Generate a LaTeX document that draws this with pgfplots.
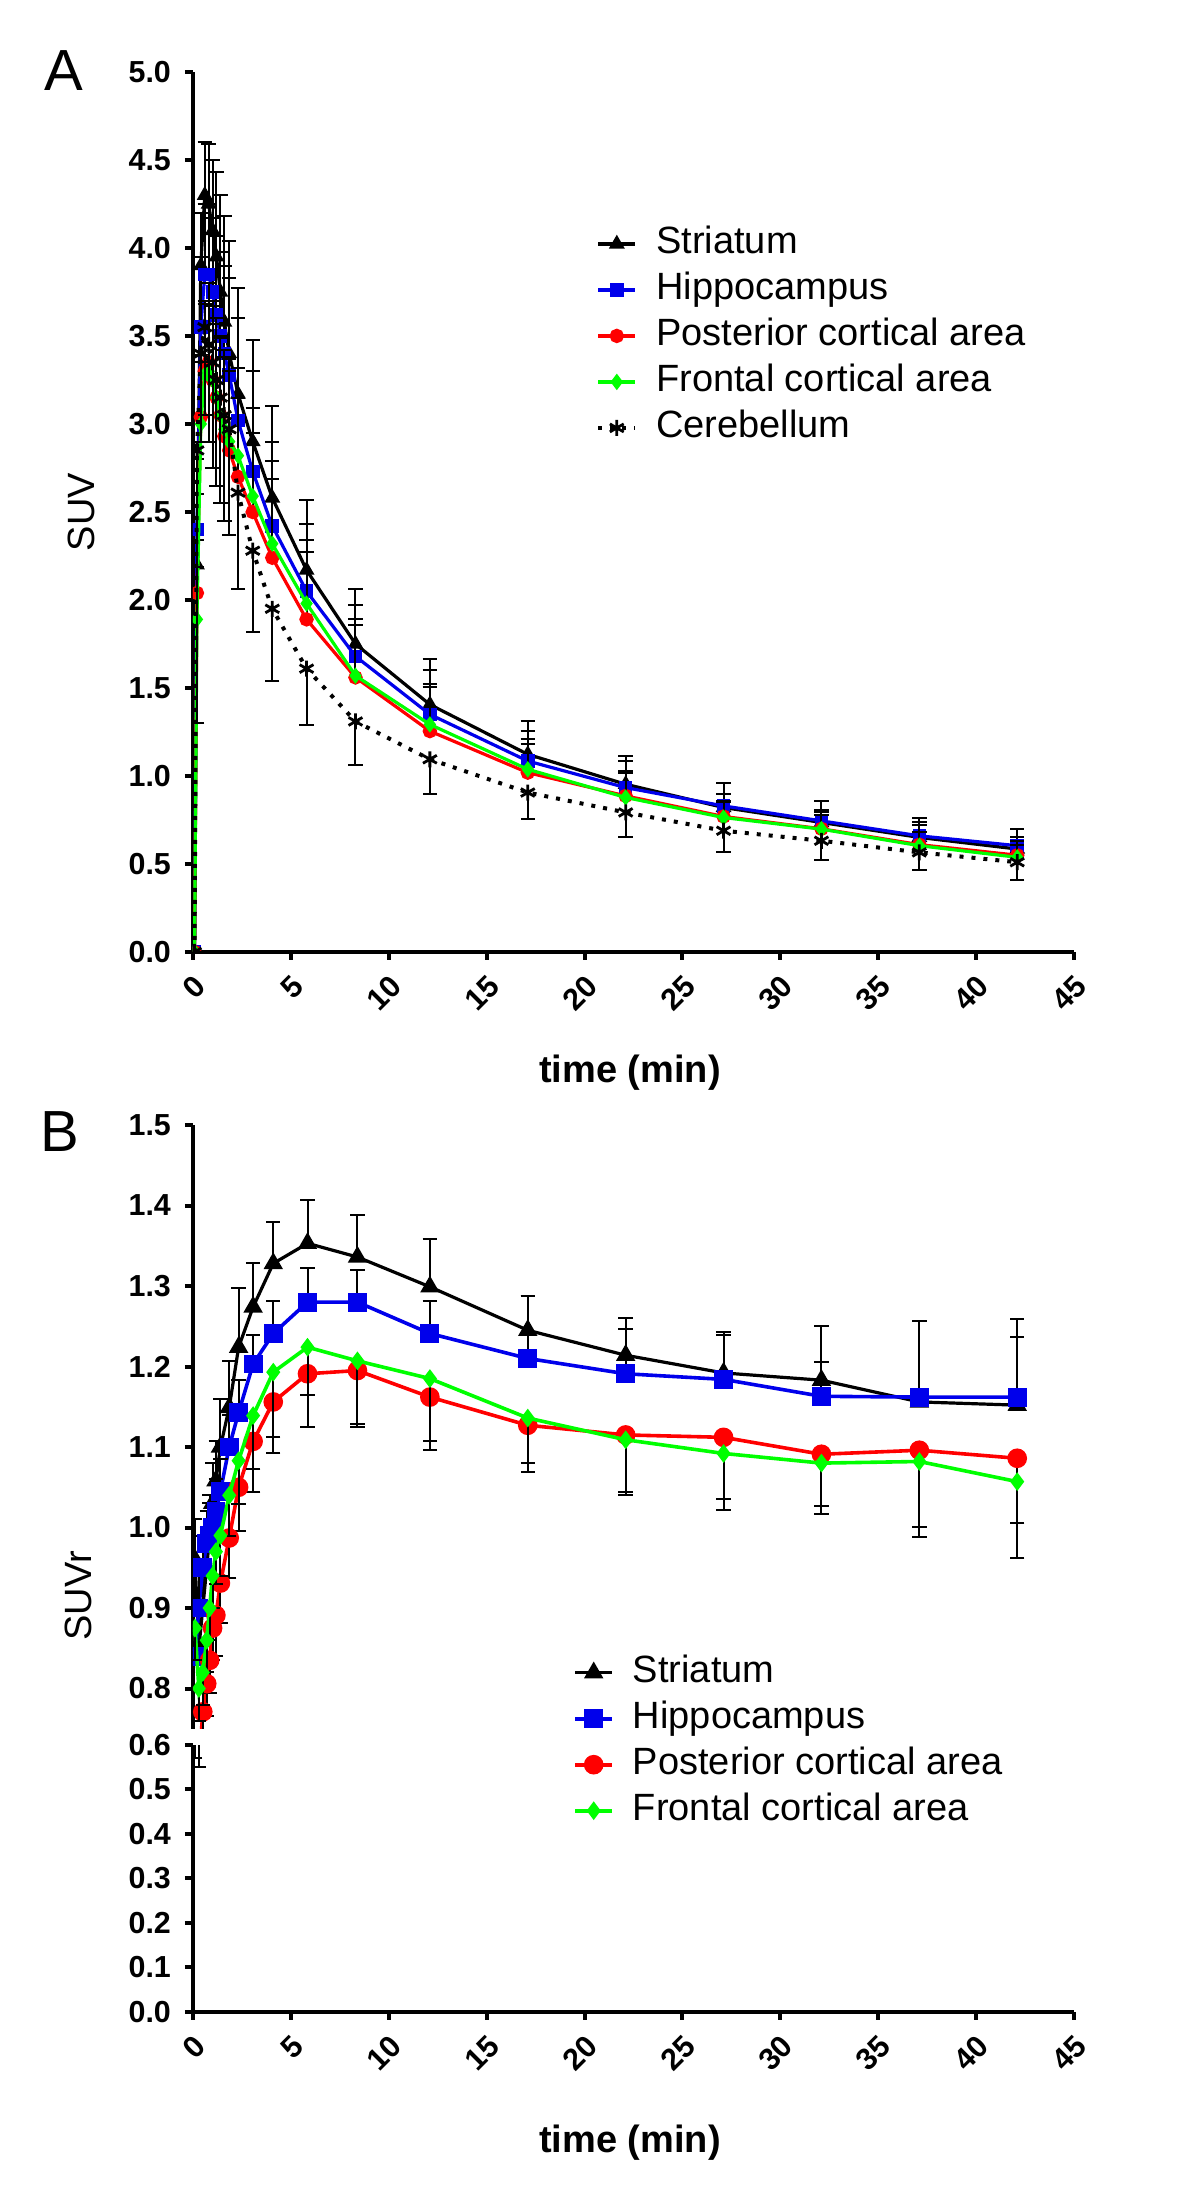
\documentclass[border=0pt]{standalone}
\usepackage{fontspec}
\setmainfont{Liberation Sans}
\usepackage{pgfplots}
\usepackage{pgfplotstable}
\pgfplotsset{compat=1.18}

\definecolor{cblue}{RGB}{0,0,235}
\definecolor{cred}{RGB}{255,0,0}
\definecolor{cgreen}{RGB}{0,255,0}

% Panel A: SUV
\pgfplotstableread{
t     bk    ebk   bl    ebl   rd    erd   gr    egr   ce    ece
0.08  0     0     0     0     0     0     0     0     0     0
0.2   2.20  0.40  2.40  0.40  2.04  0.30  1.89  0.30  2.85  1.55
0.4   3.90  0.30  3.55  0.40  3.04  0.35  3.00  0.35  3.40  0.50
0.6   4.30  0.30  3.85  0.40  3.30  0.40  3.28  0.40  3.55  0.50
0.8   4.25  0.34  3.85  0.40  3.35  0.45  3.30  0.40  3.45  0.55
1.0   4.10  0.40  3.75  0.42  3.25  0.45  3.25  0.42  3.35  0.60
1.2   3.95  0.48  3.62  0.45  3.15  0.45  3.15  0.42  3.25  0.60
1.4   3.75  0.55  3.50  0.48  3.05  0.45  3.05  0.44  3.15  0.60
1.6   3.58  0.60  3.40  0.50  2.93  0.45  2.97  0.45  3.05  0.60
1.85  3.40  0.64  3.28  0.55  2.85  0.45  2.90  0.47  2.97  0.60
2.3   3.17  0.60  3.02  0.58  2.70  0.45  2.82  0.50  2.61  0.55
3.05  2.90  0.58  2.73  0.57  2.50  0.45  2.59  0.50  2.28  0.46
4.05  2.58  0.52  2.42  0.48  2.24  0.45  2.32  0.47  1.95  0.41
5.8   2.17  0.40  2.05  0.38  1.89  0.38  1.98  0.36  1.61  0.32
8.3   1.75  0.31  1.68  0.29  1.56  0.30  1.57  0.32  1.31  0.245
12.1  1.406 0.26  1.35  0.25  1.255 0.25  1.293 0.23  1.095 0.20
17.1  1.123 0.19  1.085 0.17  1.019 0.16  1.038 0.17  0.906 0.15
22.1  0.953 0.16  0.934 0.15  0.887 0.13  0.878 0.15  0.793 0.14
27.1  0.821 0.137 0.83  0.07  0.77  0.08  0.764 0.095 0.689 0.12
32.1  0.736 0.123 0.745 0.06  0.70  0.08  0.698 0.10  0.632 0.11
37.1  0.651 0.113 0.66  0.076 0.61  0.07  0.604 0.116 0.566 0.10
42.1  0.585 0.113 0.604 0.05  0.55  0.06  0.538 0.095 0.51  0.10
}\dataA

% Panel B: SUVr
\pgfplotstableread{
t     bk    ebk   bl    ebl   rd    erd   gr    egr
0.1   0.96  0.05  0.84  0.04  0.62  0.05  0.875 0.04
0.3   0.85  0.05  0.90  0.04  0.70  0.15  0.80  0.04
0.5   0.90  0.05  0.95  0.04  0.771 0.04  0.82  0.04
0.7   0.95  0.05  0.98  0.04  0.806 0.04  0.86  0.04
0.85  0.99  0.05  0.99  0.04  0.835 0.04  0.90  0.04
1.0   1.03  0.05  1.00  0.04  0.875 0.04  0.94  0.04
1.17  1.058 0.05  1.02  0.04  0.891 0.05  0.97  0.04
1.4   1.10  0.06  1.045 0.04  0.931 0.05  0.99  0.05
1.85  1.149 0.058 1.10  0.04  0.987 0.05  1.04  0.05
2.33  1.224 0.073 1.143 0.04  1.05  0.054 1.083 0.054
3.07  1.274 0.054 1.203 0.036 1.107 0.063 1.139 0.066
4.1   1.328 0.052 1.241 0.041 1.156 0.063 1.193 0.081
5.85  1.353 0.054 1.280 0.042 1.191 0.066 1.224 0.06
8.4   1.336 0.052 1.280 0.04  1.195 0.07  1.207 0.079
12.1  1.299 0.06  1.241 0.041 1.162 0.066 1.185 0.077
17.1  1.245 0.043 1.210 0.078 1.127 0.058 1.136 0.056
22.1  1.214 0.046 1.191 0.056 1.115 0.071 1.109 0.069
27.1  1.192 0.051 1.184 0.055 1.112 0.076 1.092 0.07
32.1  1.183 0.067 1.163 0.042 1.091 0.074 1.080 0.053
37.1  1.156 0.10  1.162 0.094 1.096 0.108 1.082 0.081
42.1  1.152 0.107 1.162 0.075 1.086 0.081 1.057 0.095
}\dataB

\pgfplotsset{
  every non boxed x axis/.append style={x axis line style={-}},
  every non boxed y axis/.append style={y axis line style={-}},
  base/.style={
    scale only axis,
    xmin=0, xmax=45,
    enlargelimits=false,
    axis line style={-, line width=1.1pt},
    every tick/.style={black, line width=1pt},
    major tick length=2pt,
    tick label style={font=\bfseries\fontsize{7.6}{9}\selectfont},
    /pgf/number format/assume math mode=true,
    yticklabel style={/pgf/number format/.cd, fixed, fixed zerofill, precision=1},
    xticklabel style={xshift=4.3pt, yshift=-2.9pt, rotate=45, anchor=east},
    clip marker paths=true,
    legend cell align=left,
    legend image code/.code={
      \draw[mark repeat=2, mark phase=2, #1] plot coordinates {(0pt,0pt) (4.6pt,0pt) (9.2pt,0pt)};
    },
  },
  fixlines/.style={x axis line style={-}, y axis line style={-}, tick align=outside},
  errp/.style={error bars/y dir=plus, error bars/y explicit,
    error bars/error bar style={line width=0.5pt, black, solid},
    error bars/error mark options={rotate=90, mark size=1.8pt, line width=0.5pt, black, solid}},
  errm/.style={error bars/y dir=minus, error bars/y explicit,
    error bars/error bar style={line width=0.5pt, black, solid},
    error bars/error mark options={rotate=90, mark size=1.8pt, line width=0.5pt, black, solid}},
  legstyle/.style={draw=none, fill=none, inner sep=0pt, row sep=2.5pt, column sep=4.75pt,
    font=\fontsize{9.5}{11}\selectfont,
    nodes={inner sep=0pt, text height=7pt, text depth=2pt}},
}

\begin{document}
\begin{tikzpicture}
\useasboundingbox (0,0) rectangle (300pt,549.75pt);

% ---------------- Panel A ----------------
\begin{axis}[base,
  at={(48.25pt,311.75pt)}, anchor=south west,
  width=220.25pt, height=220pt,
  ymin=0, ymax=5,
  axis x line=bottom, axis y line=left, fixlines,
  xtick={0,5,...,45},
  ytick={0,0.5,1,1.5,2,2.5,3,3.5,4,4.5,5},
  xlabel={\bfseries time (min)},
  xlabel style={at={(axis description cs:0.496,-0.137)}, anchor=center, font=\bfseries\fontsize{9.5}{11}\selectfont},
  ylabel={SUV},
  ylabel style={at={(axis description cs:-0.127,0.5)}, anchor=center, rotate=0, font=\fontsize{9.5}{11}\selectfont},
  legend style={legstyle, at={(axis description cs:0.457,0.826)}, anchor=north west},
]
\addplot[black, line width=0.8pt, mark=triangle*, mark size=1.5pt, errp]
  table[x=t, y=bk, y error=ebk] {\dataA};
\addlegendentry{Striatum}
\addplot[cblue, line width=0.8pt, mark=square*, mark size=1.3pt, errp]
  table[x=t, y=bl, y error=ebl] {\dataA};
\addlegendentry{Hippocampus}
\addplot[cred, line width=0.8pt, mark=*, mark size=1.4pt, errp]
  table[x=t, y=rd, y error=erd] {\dataA};
\addlegendentry{Posterior cortical area}
\addplot[cgreen, line width=0.8pt, mark=diamond*, mark size=1.4pt, errp]
  table[x=t, y=gr, y error=egr] {\dataA};
\addlegendentry{Frontal cortical area}
\addplot[black, line width=1pt, dash pattern=on 1pt off 2pt, mark=asterisk, mark size=2pt, mark options={solid, line width=0.7pt}, errm]
  table[x=t, y=ce, y error=ece] {\dataA};
\addlegendentry{Cerebellum}
\end{axis}

% ---------------- Panel B upper ----------------
\begin{axis}[base,
  at={(48.25pt,117.56pt)}, anchor=south west,
  width=220.25pt, height=150.94pt,
  ymin=0.75, ymax=1.5,
  axis x line=none, axis y line=left, fixlines,
  xtick=\empty,
  ytick={0.8,0.9,1.0,1.1,1.2,1.3,1.4,1.5},
  ylabel={SUVr},
  ylabel style={at={(axis description cs:-0.13,0.22)}, anchor=center, rotate=0, font=\fontsize{9.5}{11}\selectfont},
  legend style={legstyle, at={(axis description cs:0.431,0.124)}, anchor=north west},
]
\addplot[black, line width=0.8pt, mark=triangle*, mark size=2pt, errp]
  table[x=t, y=bk, y error=ebk] {\dataB};
\addlegendentry{Striatum}
\addplot[cblue, line width=0.9pt, mark=square*, mark size=1.9pt, errp]
  table[x=t, y=bl, y error=ebl] {\dataB};
\addlegendentry{Hippocampus}
\addplot[cred, line width=0.9pt, mark=*, mark size=2pt, errm]
  table[x=t, y=rd, y error=erd] {\dataB};
\addlegendentry{Posterior cortical area}
\addplot[cgreen, line width=0.9pt, mark=diamond*, mark size=1.6pt, errm]
  table[x=t, y=gr, y error=egr] {\dataB};
\addlegendentry{Frontal cortical area}
\end{axis}

% ---------------- Panel B lower ----------------
\begin{axis}[base,
  at={(48.25pt,46.75pt)}, anchor=south west,
  width=220.25pt, height=66.75pt,
  ymin=0, ymax=0.6,
  axis x line=bottom, axis y line=left, fixlines,
  xtick={0,5,...,45},
  ytick={0,0.1,0.2,0.3,0.4,0.5,0.6},
  xlabel={\bfseries time (min)},
  xlabel style={at={(axis description cs:0.496,-0.49)}, anchor=center, font=\bfseries\fontsize{9.5}{11}\selectfont},
]
\addplot[cred, line width=0.9pt, mark=*, mark size=2pt, errm, forget plot]
  table[x=t, y=rd, y error=erd] {\dataB};
\end{axis}

% panel letters
\node[font=\fontsize{14.5}{16}\selectfont] at (16pt,532pt) {A};
\node[font=\fontsize{14.5}{16}\selectfont] at (15pt,266.75pt) {B};
\end{tikzpicture}
\end{document}
